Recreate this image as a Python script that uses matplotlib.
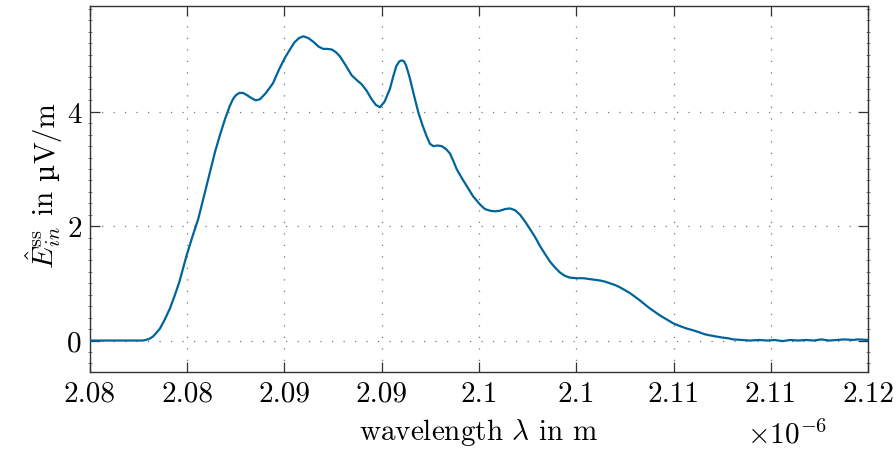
import numpy as np
import matplotlib.pyplot as plt
from matplotlib.ticker import MultipleLocator

plt.rcParams['font.family'] = ['cmr10', 'DejaVu Serif']
plt.rcParams['mathtext.fontset'] = 'cm'
plt.rcParams['axes.unicode_minus'] = False

# wavelength in um and steady-state input field in uV/m
wavelength_um = [
    2.08000, 2.08150, 2.08270, 2.08288, 2.08305, 2.08324, 2.08340, 2.08360,
    2.08385, 2.08411, 2.08435, 2.08460, 2.08497, 2.08527, 2.08557, 2.08587,
    2.08617, 2.08643, 2.08668, 2.08695, 2.08720, 2.08735, 2.08750, 2.08768,
    2.08787, 2.08808, 2.08830, 2.08852, 2.08874, 2.08905, 2.08941, 2.08972,
    2.09003, 2.09030, 2.09050, 2.09075, 2.09097, 2.09122, 2.09150, 2.09175,
    2.09199, 2.09220, 2.09243, 2.09265, 2.09285, 2.09315, 2.09345, 2.09370,
    2.09397, 2.09422, 2.09448, 2.09470, 2.09491, 2.09515, 2.09542, 2.09560,
    2.09575, 2.09590, 2.09603, 2.09615, 2.09625, 2.09635, 2.09645, 2.09665,
    2.09688, 2.09710, 2.09731, 2.09748, 2.09765, 2.09787, 2.09808, 2.09830,
    2.09851, 2.09868, 2.09885, 2.09910, 2.09937, 2.09970, 2.10005, 2.10030,
    2.10057, 2.10082, 2.10108, 2.10135, 2.10159, 2.10185, 2.10211, 2.10237,
    2.10262, 2.10290, 2.10314, 2.10340, 2.10365, 2.10390, 2.10416, 2.10442,
    2.10468, 2.10500, 2.10536, 2.10580, 2.10622, 2.10648, 2.10674, 2.10700,
    2.10725, 2.10750, 2.10776, 2.10800, 2.10828, 2.10853, 2.10879, 2.10905,
    2.10930, 2.10965, 2.10999, 2.11035, 2.11068, 2.11100, 2.11136, 2.11160,
    2.11188, 2.11220, 2.11256, 2.11280, 2.11307, 2.11350, 2.11393, 2.11440,
    2.11480, 2.11520, 2.11560, 2.11600, 2.11640, 2.11680, 2.11720, 2.11760,
    2.11800, 2.11840, 2.11880, 2.11920, 2.11950, 2.12000,
]
field_uv = [
    0.00, 0.00, 0.00, 0.01, 0.03, 0.07, 0.13, 0.21,
    0.37, 0.56, 0.78, 1.03, 1.49, 1.82, 2.13, 2.54,
    2.95, 3.30, 3.59, 3.88, 4.11, 4.22, 4.29, 4.33,
    4.33, 4.29, 4.24, 4.20, 4.22, 4.33, 4.50, 4.74,
    4.95, 5.10, 5.21, 5.29, 5.32, 5.29, 5.22, 5.14,
    5.10, 5.10, 5.09, 5.04, 4.97, 4.81, 4.64, 4.56,
    4.48, 4.37, 4.22, 4.12, 4.08, 4.18, 4.40, 4.63,
    4.80, 4.88, 4.90, 4.88, 4.81, 4.70, 4.58, 4.30,
    3.99, 3.76, 3.57, 3.44, 3.40, 3.41, 3.40, 3.35,
    3.27, 3.14, 3.00, 2.85, 2.70, 2.52, 2.38, 2.30,
    2.27, 2.26, 2.27, 2.30, 2.31, 2.28, 2.20, 2.08,
    1.95, 1.80, 1.65, 1.51, 1.38, 1.28, 1.19, 1.13,
    1.10, 1.09, 1.09, 1.07, 1.05, 1.03, 1.00, 0.97,
    0.93, 0.88, 0.83, 0.77, 0.70, 0.63, 0.56, 0.50,
    0.44, 0.37, 0.30, 0.25, 0.21, 0.18, 0.14, 0.11,
    0.09, 0.07, 0.05, 0.04, 0.02, 0.01, 0.00, 0.01,
    0.00, 0.01, -0.01, 0.01, 0.00, 0.01, 0.00, 0.02,
    0.00, 0.01, 0.02, 0.01, 0.02, 0.01,
]

xtick_um = [2.080, 2.085, 2.090, 2.095, 2.100, 2.105, 2.110, 2.115, 2.120]
xtick_labels = ['2.08', '2.08', '2.09', '2.09', '2.1', '2.1', '2.11', '2.11', '2.12']
ytick_vals = [0, 2, 4]

lam = np.array(wavelength_um) * 1e-6
fs = 21

W, H = 896, 452
fig = plt.figure(figsize=(W / 100, H / 100), dpi=100)
ax = fig.add_axes([0.1004, 0.1748, 0.8684, 0.8097])

ax.plot(lam, field_uv, color='#00649C', lw=1.6, zorder=3)

ax.set_xlim(2.08e-6, 2.12e-6)
ax.set_ylim(-0.55, 5.85)
ax.set_xticks(np.array(xtick_um) * 1e-6)
ax.set_xticklabels(xtick_labels)
ax.set_yticks(ytick_vals)
ax.set_yticklabels([str(v) for v in ytick_vals])
ax.yaxis.set_minor_locator(MultipleLocator(0.2))

ax.tick_params(which='major', direction='in', length=7, width=0.9,
               top=True, right=True, labelsize=fs, color='#333333', pad=6)
ax.tick_params(which='minor', direction='inout', length=3, width=0.6,
               left=True, right=True, color='#666666')
ax.tick_params(axis='x', which='minor', bottom=False, top=False)

ax.grid(True, which='major', color='#777777', lw=0.9, linestyle=(0, (1, 8.2)))
for s in ax.spines.values():
    s.set_color('#333333')
    s.set_linewidth(1.0)

ax.set_xlabel(r'wavelength $\lambda$ in m', fontsize=fs, labelpad=7)
ax.text(0.896, -0.13, r'$\times 10^{-6}$', transform=ax.transAxes,
        fontsize=fs, ha='center', va='top')

# y label pieces: cmr10 has no usable micro sign, so that glyph comes from DejaVu Serif
ylabel_parts = [
    ('$\\hat{E}_{in}^{\\mathrm{ss}}$ in', 'cmr10', fs, 9.5),
    ('\u00b5', 'DejaVu Serif', fs - 2, 0.0),
    ('V/m', 'cmr10', fs, 0.0),
]
fig.canvas.draw()
renderer = fig.canvas.get_renderer()
pieces = []
for s, fam, size, gap in ylabel_parts:
    t = fig.text(0, 0, s, family=fam, fontsize=size, rotation=90,
                 rotation_mode='anchor', ha='left', va='baseline')
    pieces.append((t, t.get_window_extent(renderer).height, gap))
total = sum(h + g for _, h, g in pieces)
baseline_x = 54.0
y = (H - 186.0) - total / 2
for t, h, gap in pieces:
    t.set_position((baseline_x / W, y / H))
    y += h + gap

fig.savefig('out.png', dpi=100)
